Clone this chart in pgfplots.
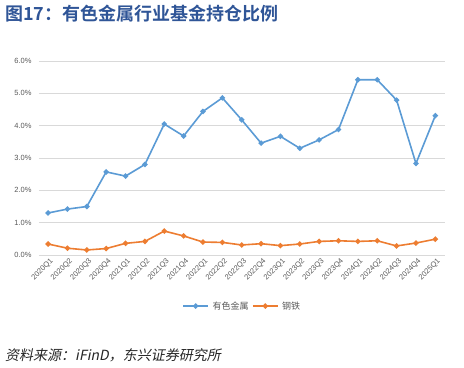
\documentclass[border=0pt]{standalone}
\usepackage{pgfplots}
\pgfplotsset{compat=1.18}
\usepackage{fontspec}
\setmainfont{Liberation Sans}
\newfontfamily\cjk{Noto Sans CJK SC}
\newfontfamily\cjkb{Noto Sans CJK SC Bold}
\newfontfamily\cjkit[FakeSlant=0.2]{Noto Sans CJK SC}
\definecolor{cblue}{HTML}{5B9BD5}
\definecolor{corange}{HTML}{ED7D31}
\definecolor{ctitle}{HTML}{2F5597}
\definecolor{ctick}{HTML}{595959}
\definecolor{cgrid}{HTML}{D9D9D9}
\begin{document}
\begin{tikzpicture}
\useasboundingbox (0,0) rectangle (464bp,368bp);
\node[anchor=west, inner sep=0pt, text=ctitle] at (5bp,354bp) {\fontsize{18bp}{20bp}\selectfont\cjkb 图17：有色金属行业基金持仓比例};
\node[anchor=west, inner sep=0pt, text=black!85] at (5bp,13bp) {\fontsize{14bp}{16bp}\selectfont\cjkit 资料来源：\textit{iFinD}，东兴证券研究所};
\begin{axis}[
  at={(39bp,113bp)}, anchor=south west,
  scale only axis, width=406bp, height=194bp,
  xmin=-0.47, xmax=20.5, ymin=0, ymax=6,
  axis line style={draw=none},
  major tick length=0pt,
  ymajorgrids, grid style={cgrid, line width=0.8bp},
  ytick={0,1,2,3,4,5,6},
  yticklabel={\pgfmathprintnumber[fixed,fixed zerofill,precision=1]{\tick}\%},
  /pgf/number format/assume math mode=true,
  yticklabel style={font=\fontsize{7.5bp}{8bp}\selectfont, text=ctick, xshift=-4bp},
  xtick={0,...,20},
  xticklabels={2020Q1,2020Q2,2020Q3,2020Q4,2021Q1,2021Q2,2021Q3,2021Q4,2022Q1,2022Q2,2022Q3,2022Q4,2023Q1,2023Q2,2023Q3,2023Q4,2024Q1,2024Q2,2024Q3,2024Q4,2025Q1},
  xticklabel style={font=\fontsize{7.5bp}{8bp}\selectfont, text=ctick, rotate=45, anchor=north east, inner sep=1pt, yshift=-2bp},
  legend columns=2,
  legend style={at={(0.5,-0.263)}, anchor=center, draw=none, font=\fontsize{9bp}{10bp}\selectfont\cjk, text=ctick, column sep=2bp, nodes={inner sep=1.5bp}},
  legend image code/.code={\draw[mark repeat=2,mark phase=2] plot coordinates {(0bp,0bp) (12.5bp,0bp) (25bp,0bp)};},
]
\addplot[cblue, line width=1.6bp, mark=*, mark size=1.8bp] coordinates {
(0,1.30) (1,1.42) (2,1.50) (3,2.57) (4,2.44) (5,2.80) (6,4.05) (7,3.68) (8,4.44) (9,4.86)
(10,4.18) (11,3.46) (12,3.67) (13,3.30) (14,3.56) (15,3.88) (16,5.42) (17,5.42) (18,4.79) (19,2.83) (20,4.31)};
\addlegendentry{有色金属}
\addplot[corange, line width=1.6bp, mark=*, mark size=1.8bp] coordinates {
(0,0.34) (1,0.21) (2,0.155) (3,0.20) (4,0.36) (5,0.42) (6,0.74) (7,0.59) (8,0.40) (9,0.39)
(10,0.31) (11,0.35) (12,0.29) (13,0.34) (14,0.42) (15,0.44) (16,0.42) (17,0.44) (18,0.28) (19,0.37) (20,0.49)};
\addlegendentry{钢铁}
\end{axis}
\end{tikzpicture}
\end{document}
